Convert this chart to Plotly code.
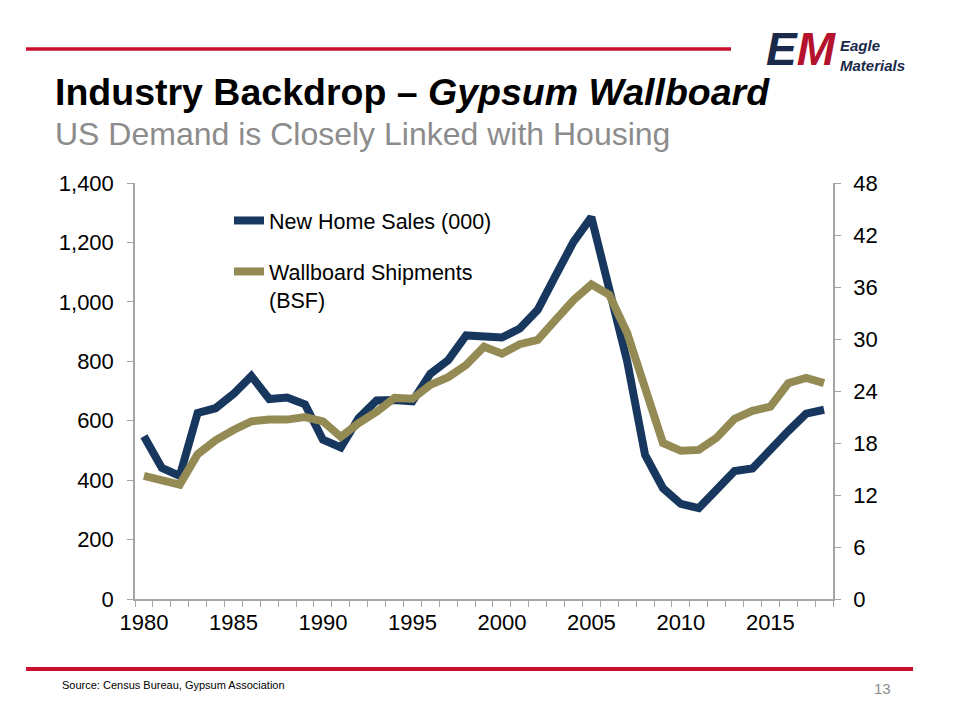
import plotly.graph_objects as go

# ---- data ----
years = list(range(1980, 2019))
home_sales = [548, 441, 414, 626, 642, 690, 750, 673, 678, 655,
              536, 510, 609, 668, 670, 665, 758, 804, 887, 882,
              880, 910, 973, 1088, 1202, 1285, 1048, 800, 485, 373,
              320, 306, 368, 431, 439, 505, 565, 624, 637]
wallboard = [14.2, 13.8, 13.2, 16.7, 18.3, 19.5, 20.5, 20.7, 20.7, 21.0,
             20.5, 18.7, 20.3, 21.6, 23.2, 23.1, 24.7, 25.6, 27.0, 29.1,
             28.3, 29.4, 29.9, 32.2, 34.5, 36.3, 35.1, 30.7, 24.5, 18.0,
             17.1, 17.2, 18.6, 20.8, 21.7, 22.2, 24.9, 25.5, 24.9]
x_tick_labels = [1980, 1985, 1990, 1995, 2000, 2005, 2010, 2015]
left_ticks = [0, 200, 400, 600, 800, 1000, 1200, 1400]
right_ticks = [0, 6, 12, 18, 24, 30, 36, 42, 48]
series_names = ["New Home Sales (000)", "Wallboard Shipments<br>(BSF)"]

NAVY = "#17375E"
GOLD = "#948A54"
RED = "#C8102E"
AXIS = "#A6A6A6"
FONT = "Liberation Sans, Arial, sans-serif"

# plot area in pixels
L, R, T, B = 135, 833, 183, 599
W, H = R - L, B - T


def px(x):
    return (x - L) / W


def py(y):
    return (B - y) / H


fig = go.Figure()
fig.add_trace(go.Scatter(x=years, y=home_sales, mode="lines", name=series_names[0],
                         legendgroup="a",
                         line=dict(color=NAVY, width=8), yaxis="y"))
fig.add_trace(go.Scatter(x=years, y=wallboard, mode="lines", name=series_names[1],
                         legendgroup="b",
                         line=dict(color=GOLD, width=8), yaxis="y2"))

TICKFONT = dict(size=22, family=FONT, color="black")

fig.update_layout(
    width=960, height=720,
    margin=dict(l=L, r=960 - R, t=T, b=720 - B),
    paper_bgcolor="white", plot_bgcolor="white",
    font=dict(family=FONT, color="black", size=21),
    showlegend=True,
    legend=dict(x=px(229), y=py(200), xanchor="left", yanchor="top",
                bgcolor="rgba(0,0,0,0)", font=dict(size=21.5, family=FONT, color="black"),
                itemwidth=30, valign="top", tracegroupgap=20,
                traceorder="grouped"),
    xaxis=dict(range=[1979.5, 2018.5], tickvals=x_tick_labels,
               ticktext=[str(v) for v in x_tick_labels], ticks="",
               showgrid=False, zeroline=False, showline=True,
               linecolor=AXIS, linewidth=1.5, ticklabelstandoff=3,
               tickfont=TICKFONT,
               minor=dict(tick0=1979.5, dtick=1, ticks="outside",
                          ticklen=6, tickcolor=AXIS, tickwidth=1.2, showgrid=False)),
    yaxis=dict(range=[0, 1400], tickvals=left_ticks,
               ticktext=[f"{v:,}" for v in left_ticks],
               ticks="outside", ticklen=6, tickcolor=AXIS, tickwidth=1.2,
               showgrid=False, zeroline=False, showline=True,
               linecolor=AXIS, linewidth=1.5, ticklabelstandoff=9,
               tickfont=TICKFONT),
    yaxis2=dict(range=[0, 48], tickvals=right_ticks, overlaying="y", side="right",
                ticks="outside", ticklen=6, tickcolor=AXIS, tickwidth=1.2,
                showgrid=False, zeroline=False, showline=True,
                linecolor=AXIS, linewidth=1.5, ticklabelstandoff=8,
                tickfont=TICKFONT),
)

# decorative red rules
fig.add_shape(type="line", xref="paper", yref="paper",
              x0=px(26), x1=px(731), y0=py(49), y1=py(49),
              line=dict(color=RED, width=3.5))
fig.add_shape(type="line", xref="paper", yref="paper",
              x0=px(26), x1=px(913), y0=py(669), y1=py(669),
              line=dict(color=RED, width=4))

# title & subtitle
fig.add_annotation(xref="paper", yref="paper", x=px(53), y=py(92),
                   xanchor="left", yanchor="middle", showarrow=False,
                   text="<b>Industry Backdrop – <i>Gypsum Wallboard</i></b>",
                   font=dict(size=37.5, family=FONT, color="black"))
fig.add_annotation(xref="paper", yref="paper", x=px(53), y=py(134),
                   xanchor="left", yanchor="middle", showarrow=False,
                   text="US Demand is Closely Linked with Housing",
                   font=dict(size=32, family=FONT, color="#8C8C8C"))

# logo approximation
fig.add_annotation(xref="paper", yref="paper", x=px(764), y=py(49),
                   xanchor="left", yanchor="middle", showarrow=False,
                   text="<b><i><span style='color:%s'>E</span><span style='color:%s'>M</span></i></b>" % ("#1B2A4A", "#B5122E"),
                   font=dict(size=46, family=FONT))
fig.add_annotation(xref="paper", yref="paper", x=px(838), y=py(55),
                   xanchor="left", yanchor="middle", showarrow=False, align="left",
                   text="<b><i>Eagle<br>Materials</i></b>",
                   font=dict(size=15, family=FONT, color="#1B2A4A"))

# footer
fig.add_annotation(xref="paper", yref="paper", x=px(60), y=py(685),
                   xanchor="left", yanchor="middle", showarrow=False,
                   text="Source: Census Bureau, Gypsum Association",
                   font=dict(size=11, family=FONT, color="black"))
fig.add_annotation(xref="paper", yref="paper", x=px(893), y=py(688),
                   xanchor="right", yanchor="middle", showarrow=False,
                   text="13", font=dict(size=15, family=FONT, color="#8C8C8C"))

fig.write_html("out.html")
